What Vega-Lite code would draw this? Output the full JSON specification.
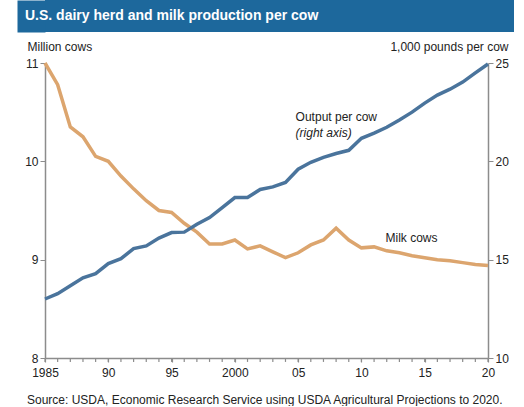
{
  "$schema": "https://vega.github.io/schema/vega-lite/v6.json",
  "padding": {"left": 24, "top": 0, "right": 0, "bottom": 0},
  "background": "white",
  "config": {"font": "Liberation Sans", "view": {"stroke": null}},
  "spacing": 8,
  "datasets": {
    "series": [
      {"year": 1985, "cows": 11.0, "output": 13.0},
      {"year": 1986, "cows": 10.78, "output": 13.27},
      {"year": 1987, "cows": 10.35, "output": 13.67},
      {"year": 1988, "cows": 10.25, "output": 14.08},
      {"year": 1989, "cows": 10.05, "output": 14.29},
      {"year": 1990, "cows": 10.0, "output": 14.8},
      {"year": 1991, "cows": 9.85, "output": 15.05},
      {"year": 1992, "cows": 9.72, "output": 15.56},
      {"year": 1993, "cows": 9.6, "output": 15.7},
      {"year": 1994, "cows": 9.5, "output": 16.1},
      {"year": 1995, "cows": 9.48, "output": 16.38},
      {"year": 1996, "cows": 9.37, "output": 16.4},
      {"year": 1997, "cows": 9.28, "output": 16.8},
      {"year": 1998, "cows": 9.16, "output": 17.14},
      {"year": 1999, "cows": 9.16, "output": 17.65},
      {"year": 2000, "cows": 9.2, "output": 18.16},
      {"year": 2001, "cows": 9.11, "output": 18.16},
      {"year": 2002, "cows": 9.14, "output": 18.57},
      {"year": 2003, "cows": 9.08, "output": 18.7},
      {"year": 2004, "cows": 9.02, "output": 18.93},
      {"year": 2005, "cows": 9.07, "output": 19.6},
      {"year": 2006, "cows": 9.15, "output": 19.95},
      {"year": 2007, "cows": 9.2, "output": 20.2},
      {"year": 2008, "cows": 9.32, "output": 20.4},
      {"year": 2009, "cows": 9.2, "output": 20.56},
      {"year": 2010, "cows": 9.12, "output": 21.17},
      {"year": 2011, "cows": 9.13, "output": 21.43},
      {"year": 2012, "cows": 9.09, "output": 21.73},
      {"year": 2013, "cows": 9.07, "output": 22.1},
      {"year": 2014, "cows": 9.04, "output": 22.5},
      {"year": 2015, "cows": 9.02, "output": 22.96},
      {"year": 2016, "cows": 9.0, "output": 23.37},
      {"year": 2017, "cows": 8.99, "output": 23.67},
      {"year": 2018, "cows": 8.97, "output": 24.03},
      {"year": 2019, "cows": 8.95, "output": 24.5},
      {"year": 2020, "cows": 8.94, "output": 24.95}
    ],
    "header": [{"label": "U.S. dairy herd and milk production per cow"}],
    "outLabel": [{"year": 2004.8, "output": 22.25, "label": "Output per cow"}],
    "outNote": [{"year": 2004.8, "output": 21.45, "label": "(right axis)"}],
    "cowLabel": [{"year": 2011.9, "cows": 9.22, "label": "Milk cows"}]
  },
  "vconcat": [
    {
      "width": 469,
      "height": 32,
      "view": {"fill": "#1d689c", "stroke": null},
      "data": {"name": "header"},
      "mark": {"type": "text", "align": "left", "baseline": "middle", "dx": -20, "color": "white", "fontSize": 14, "fontWeight": "bold"},
      "encoding": {
        "x": {"datum": 0, "type": "quantitative", "scale": {"domain": [0, 1]}, "axis": null},
        "y": {
          "datum": 0.5,
          "type": "quantitative",
          "scale": {"domain": [0, 1]},
          "axis": {
            "orient": "left",
            "domainWidth": 28,
            "domainColor": "#1d689c",
            "domainCap": "butt",
            "offset": 14,
            "labels": false,
            "ticks": false,
            "grid": false,
            "title": null
          }
        },
        "text": {"field": "label"}
      }
    },
    {
      "width": 443,
      "height": 295,
      "title": {
        "text": "Source: USDA, Economic Research Service using USDA Agricultural Projections to 2020.",
        "orient": "bottom",
        "anchor": "start",
        "frame": "group",
        "dx": -18,
        "offset": 17,
        "fontSize": 12,
        "fontWeight": "normal",
        "color": "#222222",
        "baseline": "top"
      },
      "layer": [
        {
          "layer": [
            {
              "data": {"name": "series"},
              "mark": {"type": "rule", "color": "#8c8c8c", "strokeWidth": 1.2},
              "encoding": {
                "x": {"field": "year", "type": "quantitative", "scale": {"domain": [1985, 2020], "nice": false, "zero": false}},
                "y": {"datum": 8, "type": "quantitative", "scale": {"domain": [8, 11], "nice": false, "zero": false}},
                "y2": {"datum": 7.96}
              }
            },
            {
              "data": {"name": "series"},
              "mark": {"type": "line", "color": "#dca56e", "strokeWidth": 3.5},
              "encoding": {
                "x": {
                  "field": "year",
                  "type": "quantitative",
                  "scale": {"domain": [1985, 2020], "nice": false, "zero": false},
                  "axis": {
                    "orient": "bottom",
                    "values": [1985, 1990, 1995, 2000, 2005, 2010, 2015, 2020],
                    "labelExpr": "(datum.value == 1985 || datum.value == 2000) ? '' + datum.value : substring('' + datum.value, 2)",
                    "tickSize": 4,
                    "labelPadding": 5,
                    "labelFlush": false,
                    "labelOverlap": false,
                    "grid": false,
                    "title": null,
                    "domainColor": "#8c8c8c",
                    "domainWidth": 1.5,
                    "tickColor": "#8c8c8c",
                    "tickWidth": 1.2,
                    "labelFontSize": 12,
                    "labelColor": "#222222"
                  }
                },
                "y": {
                  "field": "cows",
                  "type": "quantitative",
                  "scale": {"domain": [8, 11], "nice": false, "zero": false},
                  "axis": {
                    "values": [8, 9, 10, 11],
                    "format": "d",
                    "tickSize": 5,
                    "labelPadding": 2,
                    "grid": false,
                    "domainColor": "#8c8c8c",
                    "domainWidth": 1.5,
                    "tickColor": "#8c8c8c",
                    "labelFontSize": 12,
                    "labelColor": "#222222",
                    "title": "Million cows",
                    "titleAngle": 0,
                    "titleAlign": "left",
                    "titleBaseline": "middle",
                    "titleX": -18,
                    "titleY": -17,
                    "titleFontSize": 12,
                    "titleFontWeight": "normal",
                    "titleColor": "#222222"
                  }
                }
              }
            },
            {
              "data": {"name": "cowLabel"},
              "mark": {"type": "text", "align": "left", "baseline": "middle", "fontSize": 12, "color": "#222222"},
              "encoding": {
                "x": {"field": "year", "type": "quantitative"},
                "y": {"field": "cows", "type": "quantitative"},
                "text": {"field": "label"}
              }
            }
          ]
        },
        {
          "layer": [
            {
              "data": {"name": "series"},
              "mark": {"type": "line", "color": "#4a749c", "strokeWidth": 3.5},
              "encoding": {
                "x": {"field": "year", "type": "quantitative"},
                "y": {
                  "field": "output",
                  "type": "quantitative",
                  "scale": {"domain": [10, 25], "nice": false, "zero": false},
                  "axis": {
                    "orient": "right",
                    "values": [10, 15, 20, 25],
                    "tickSize": 5,
                    "labelPadding": 2,
                    "grid": false,
                    "domainColor": "#8c8c8c",
                    "domainWidth": 1.5,
                    "tickColor": "#8c8c8c",
                    "labelFontSize": 12,
                    "labelColor": "#222222",
                    "title": "1,000 pounds per cow",
                    "titleAngle": 0,
                    "titleAlign": "right",
                    "titleBaseline": "middle",
                    "titleX": 20,
                    "titleY": -17,
                    "titleFontSize": 12,
                    "titleFontWeight": "normal",
                    "titleColor": "#222222"
                  }
                }
              }
            },
            {
              "data": {"name": "outLabel"},
              "mark": {"type": "text", "align": "left", "baseline": "middle", "fontSize": 12, "color": "#222222"},
              "encoding": {
                "x": {"field": "year", "type": "quantitative"},
                "y": {"field": "output", "type": "quantitative"},
                "text": {"field": "label"}
              }
            },
            {
              "data": {"name": "outNote"},
              "mark": {"type": "text", "align": "left", "baseline": "middle", "fontSize": 12, "fontStyle": "italic", "color": "#222222"},
              "encoding": {
                "x": {"field": "year", "type": "quantitative"},
                "y": {"field": "output", "type": "quantitative"},
                "text": {"field": "label"}
              }
            }
          ]
        }
      ],
      "resolve": {"scale": {"y": "independent"}, "axis": {"y": "independent"}}
    }
  ]
}
